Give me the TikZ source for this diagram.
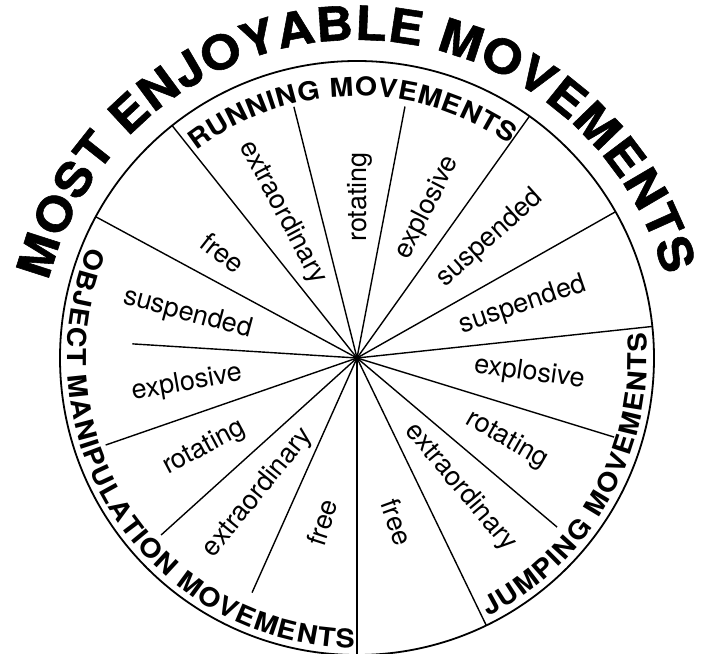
\documentclass[tikz,border=0pt]{standalone}
\usepackage{fontspec}
\setmainfont{TeX Gyre Heros}
\newfontfamily\widefont[FakeStretch=1.1]{TeX Gyre Heros}
\newfontfamily\headfont[FakeStretch=1.1,FakeBold=1.2]{TeX Gyre Heros}
\usetikzlibrary{decorations.text}
\tikzset{
  rim/.style={draw=black, line width=1.8pt},
  spoke/.style={draw=black, line width=1.4pt},
  slicelbl/.style={font=\fontsize{27}{30}\selectfont, inner sep=1pt},
  bandtxt/.style={decorate, decoration={text along path, text align={fit to path},
                  text={|\widefont\bfseries\fontsize{26}{26}\selectfont|#1}}},
  titletxt/.style={decorate, decoration={text along path, text align={fit to path},
                  text={|\headfont\bfseries\fontsize{47}{47}\selectfont|#1}}},
}
\newcommand{\Rout}{297}
\newcommand{\Rrun}{262}
\newcommand{\Rband}{290}
\newcommand{\Rtitle}{318}

\begin{document}
\begin{tikzpicture}[x=1pt,y=1pt]
  \path[use as bounding box, fill=white] (-357,-295) rectangle (349,358);
  \coordinate (c) at (0,0);

  % wheel
  \draw[rim] (c) circle[radius=\Rout];
  \foreach \ang/\len in {151.6/\Rout, 128.5/\Rout, 104.1/259, 79.2/256, 54.5/\Rout,
      29.5/\Rout, 6.1/\Rout, -17.1/269, -40.2/262, -64.2/\Rout, -90/\Rout,
      -114.1/257, -137.9/264, -160.9/266, 176.4/225}
    \draw[spoke] (c) -- (\ang:\len);

  % title and category bands
  \path[titletxt={MOST ENJOYABLE MOVEMENTS}]
    (166:\Rtitle) arc[start angle=166, end angle=15, radius=\Rtitle];
  \path[bandtxt={RUNNING MOVEMENTS}]
    (127.8:\Rrun) arc[start angle=127.8, end angle=54.6, radius=\Rrun];
  \path[bandtxt={JUMPING MOVEMENTS}]
    (-63:\Rband) arc[start angle=-63, end angle=5, radius=\Rband];
  \path[bandtxt={OBJECT MANIPULATION MOVEMENTS}]
    (157.5:\Rband) arc[start angle=157.5, end angle=269.5, radius=\Rband];

  % slices
  \node[slicelbl, rotate=19]  (jsusp)  at (17.7:174)  {suspended};
  \node[slicelbl, rotate=42]  (rsusp)  at (42:179)    {suspended};
  \node[slicelbl, rotate=63]  (rexpl)  at (65:166)    {explosive};
  \node[slicelbl, rotate=90]  (rrot)   at (89:161)    {rotating};
  \node[slicelbl, rotate=-62] (rextra) at (117:163)   {extraordinary};
  \node[slicelbl, rotate=-38] (rfree)  at (142:170)   {free};
  \node[slicelbl, rotate=-15] (osusp)  at (165.4:175) {suspended};
  \node[slicelbl, rotate=10]  (oexpl)  at (188.4:172) {explosive};
  \node[slicelbl, rotate=28]  (orot)   at (210.5:177) {rotating};
  \node[slicelbl, rotate=51]  (oextra) at (233.7:167) {extraordinary};
  \node[slicelbl, rotate=72]  (ofree)  at (258:168)   {free};
  \node[slicelbl, rotate=-70] (jfree)  at (283.7:169) {free};
  \node[slicelbl, rotate=-50] (jextra) at (308.7:166) {extraordinary};
  \node[slicelbl, rotate=-30] (jrot)   at (331.3:171) {rotating};
  \node[slicelbl, rotate=-8]  (jexpl)  at (355:173)   {explosive};
\end{tikzpicture}
\end{document}
